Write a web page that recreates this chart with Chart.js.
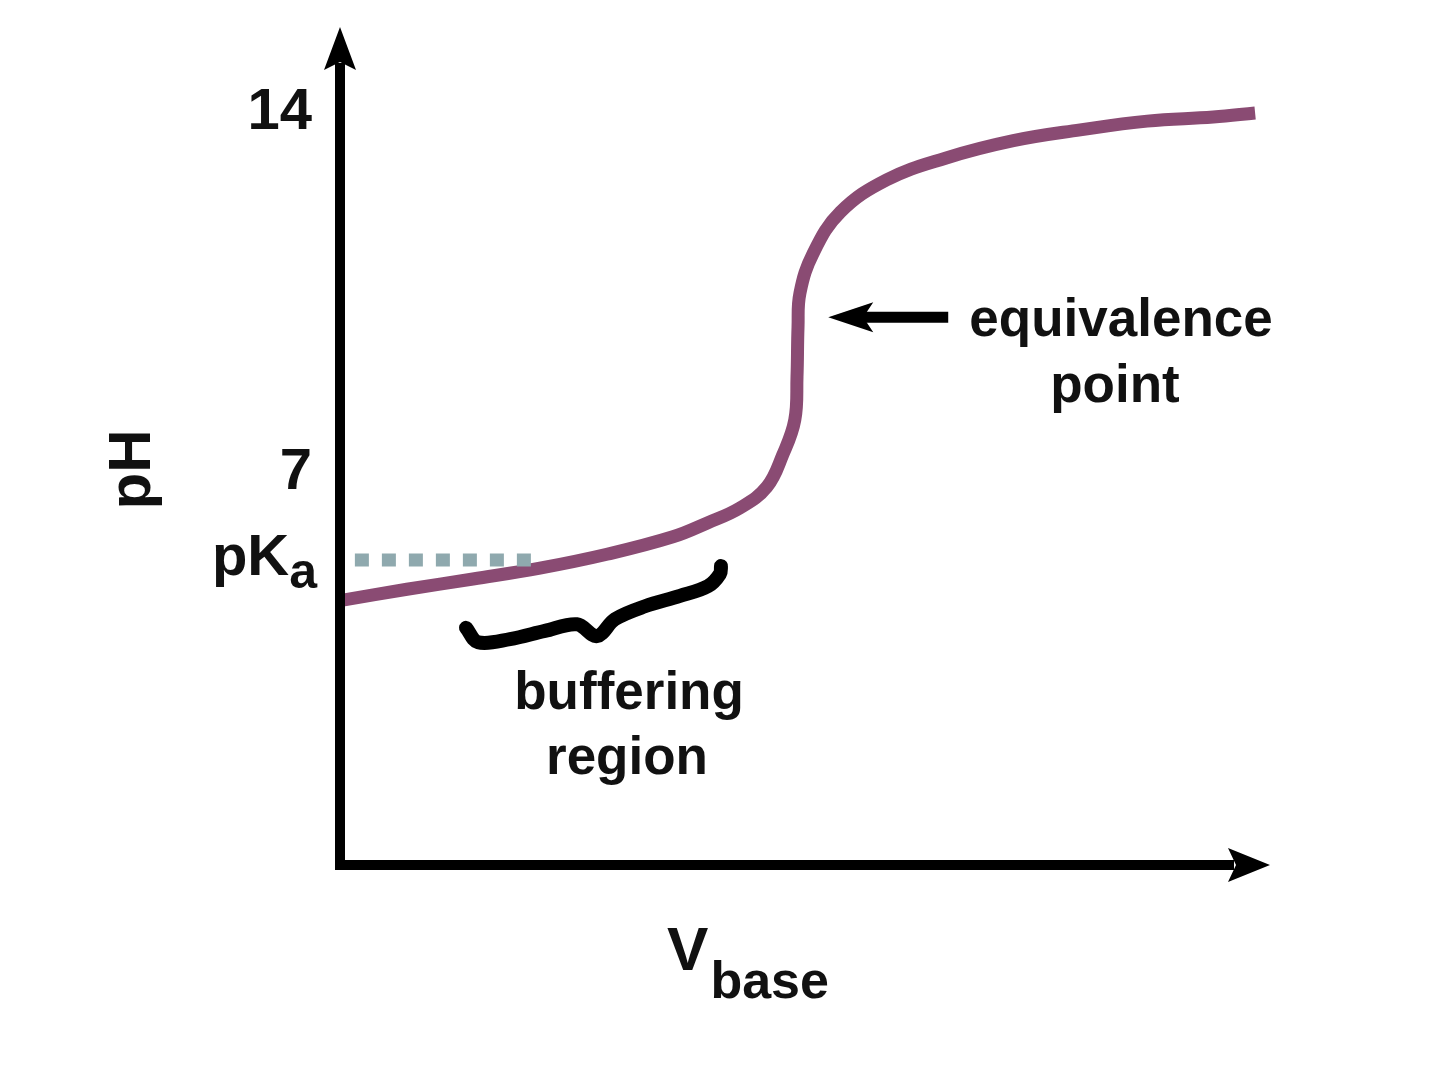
<!DOCTYPE html>
<html>
<head>
<meta charset="utf-8">
<title>Titration curve</title>
<script src="https://cdn.jsdelivr.net/npm/chart.js@4.4.1/dist/chart.umd.min.js"></script>
<style>
  html, body { margin: 0; padding: 0; background: #fff; }
  #wrap { width: 1440px; height: 1080px; position: relative; }
</style>
</head>
<body>
<div id="wrap"><canvas id="myChart"></canvas></div>
<script>
// volume of base added (arbitrary units, 0..100 along the x axis)
const vBase = [0.3, 7.2, 14.3, 21.5, 28.7, 35.8, 39.5, 43.0, 45.9, 47.6, 48.9, 49.14, 49.25, 49.46, 50.9, 53.8, 58.8, 65.1, 72.4, 79.6, 86.8, 93.9, 98.4]
const pH = [4.53, 4.74, 4.94, 5.15, 5.42, 5.76, 6.03, 6.32, 6.73, 7.35, 8.03, 8.87, 9.84, 10.50, 11.28, 12.07, 12.70, 13.12, 13.46, 13.67, 13.84, 13.92, 14.00]

const pKa = 5.31
const pKaLineX = [1.6, 20.65]

// the curly brace under the buffering region
const braceX = [13.55, 14.84, 18.28, 22.04, 25.48, 27.63, 29.57, 32.80, 36.56, 39.57, 40.86, 40.97]
const braceY = [3.99, 3.71, 3.77, 3.93, 4.06, 3.83, 4.16, 4.41, 4.61, 4.80, 5.04, 5.19]

// arrow pointing at the equivalence point (tail x, tip x), at this pH
const eqArrowX = [65.4, 52.5]
const eqArrowY = 10.03

const yTicks = [7, 14]
const yTickLabels = ['7', '14']

const FONT = '"Liberation Sans", Arial, Helvetica, sans-serif'

curve = []
for (i = 0; i < vBase.length; i++) {
    curve.push({x: vBase[i], y: pH[i]})
}
brace = []
for (i = 0; i < braceX.length; i++) {
    brace.push({x: braceX[i], y: braceY[i]})
}
pKaLine = [{x: pKaLineX[0], y: pKa}, {x: pKaLineX[1], y: pKa}]

function arrowHead(ctx, tipX, tipY, dir, len, half, notch) {
    ctx.beginPath()
    if (dir === 'up') {
        ctx.moveTo(tipX, tipY)
        ctx.lineTo(tipX + half, tipY + len)
        ctx.lineTo(tipX, tipY + len - notch)
        ctx.lineTo(tipX - half, tipY + len)
    } else if (dir === 'right') {
        ctx.moveTo(tipX, tipY)
        ctx.lineTo(tipX - len, tipY - half)
        ctx.lineTo(tipX - len + notch, tipY)
        ctx.lineTo(tipX - len, tipY + half)
    } else {
        ctx.moveTo(tipX, tipY)
        ctx.lineTo(tipX + len, tipY - half)
        ctx.lineTo(tipX + len - notch, tipY)
        ctx.lineTo(tipX + len, tipY + half)
    }
    ctx.closePath()
    ctx.fill()
}

const extras = {
    id: 'extras',
    afterDraw(chart) {
        const ctx = chart.ctx
        const a = chart.chartArea
        const xs = chart.scales.x
        const ys = chart.scales.y
        ctx.save()
        ctx.fillStyle = '#000'
        ctx.strokeStyle = '#000'
        ctx.lineCap = 'butt'

        // axes with arrow heads
        ctx.lineWidth = 10
        ctx.beginPath()
        ctx.moveTo(a.left, a.bottom + 5)
        ctx.lineTo(a.left, a.top + 36)
        ctx.stroke()
        arrowHead(ctx, a.left, a.top, 'up', 43, 16, 8)

        ctx.beginPath()
        ctx.moveTo(a.left - 5, a.bottom)
        ctx.lineTo(a.right - 36, a.bottom)
        ctx.stroke()
        arrowHead(ctx, a.right, a.bottom, 'right', 42, 17, 8)

        // equivalence point arrow
        const ey = ys.getPixelForValue(eqArrowY)
        const ex0 = xs.getPixelForValue(eqArrowX[0])
        const ex1 = xs.getPixelForValue(eqArrowX[1])
        ctx.lineWidth = 11
        ctx.beginPath()
        ctx.moveTo(ex0, ey)
        ctx.lineTo(ex1 + 34, ey)
        ctx.stroke()
        arrowHead(ctx, ex1, ey, 'left', 45, 15, 10)

        ctx.fillStyle = '#111'
        ctx.textBaseline = 'alphabetic'

        // annotations
        ctx.textAlign = 'center'
        ctx.font = 'bold 53px ' + FONT
        ctx.fillText('equivalence', xs.getPixelForValue(83.98), ys.getPixelForValue(9.66))
        ctx.fillText('point', xs.getPixelForValue(83.33), ys.getPixelForValue(8.38))
        ctx.fillText('buffering', xs.getPixelForValue(31.08), ys.getPixelForValue(2.41))
        ctx.fillText('region', xs.getPixelForValue(30.86), ys.getPixelForValue(1.15))

        // pKa tick label (with subscript)
        const py = ys.getPixelForValue(pKa)
        ctx.textAlign = 'left'
        ctx.font = 'bold 58px ' + FONT
        const wPK = ctx.measureText('pK').width
        ctx.font = 'bold 50px ' + FONT
        const wA = ctx.measureText('a').width
        const px = a.left - 23 - wPK - wA
        ctx.font = 'bold 58px ' + FONT
        ctx.fillText('pK', px, py + 15)
        ctx.font = 'bold 50px ' + FONT
        ctx.fillText('a', px + wPK, py + 28)

        // x axis title V_base
        ctx.font = 'bold 62px ' + FONT
        const wV = ctx.measureText('V').width
        ctx.font = 'bold 52px ' + FONT
        const wB = ctx.measureText('base').width
        const vx = xs.getPixelForValue(43.76) - (wV + wB) / 2
        ctx.font = 'bold 62px ' + FONT
        ctx.fillText('V', vx, a.bottom + 105)
        ctx.font = 'bold 52px ' + FONT
        ctx.fillText('base', vx + wV + 2, a.bottom + 133)

        // y axis title pH
        ctx.save()
        ctx.translate(a.left - 190, ys.getPixelForValue(7.07))
        ctx.rotate(-Math.PI / 2)
        ctx.textAlign = 'center'
        ctx.font = 'bold 60px ' + FONT
        ctx.fillText('pH', 0, 0)
        ctx.restore()

        ctx.restore()
    }
}

const ctx = document.getElementById('myChart').getContext('2d')
const myChart = new Chart(ctx, {
    type: 'scatter',
    data: {
        datasets: [{
            label: 'pKa',
            data: pKaLine,
            showLine: true,
            borderColor: '#8fa9ae',
            borderWidth: 13,
            borderDash: [14, 13],
            borderCapStyle: 'butt',
            pointRadius: 0
        }, {
            label: 'buffering region',
            data: brace,
            showLine: true,
            borderColor: '#000',
            borderWidth: 14,
            tension: 0.35,
            borderCapStyle: 'round',
            borderJoinStyle: 'round',
            pointRadius: 0
        }, {
            label: 'pH',
            data: curve,
            showLine: true,
            borderColor: '#8a4b73',
            borderWidth: 13,
            tension: 0.4,
            borderCapStyle: 'butt',
            borderJoinStyle: 'round',
            pointRadius: 0
        }]
    },
    options: {
        responsive: true,
        maintainAspectRatio: false,
        animation: false,
        layout: {padding: {left: 40, top: 27, right: 170, bottom: 215}},
        plugins: {
            legend: {display: false},
            tooltip: {enabled: false}
        },
        scales: {
            x: {type: 'linear', display: false, min: 0, max: 100},
            y: {
                type: 'linear',
                min: -0.62,
                max: 15.67,
                grid: {display: false, drawTicks: false},
                border: {display: false},
                afterBuildTicks: function (s) {
                    s.ticks = yTicks.map(function (v) { return {value: v} })
                },
                afterFit: function (s) {
                    s.width = 300
                    s.paddingTop = 0
                    s.paddingBottom = 0
                },
                ticks: {
                    padding: 28,
                    color: '#111',
                    font: {family: FONT, size: 58, weight: 'bold', lineHeight: 1},
                    callback: function (v, i) { return yTickLabels[i] }
                }
            }
        }
    },
    plugins: [extras]
})
</script>
</body>
</html>
